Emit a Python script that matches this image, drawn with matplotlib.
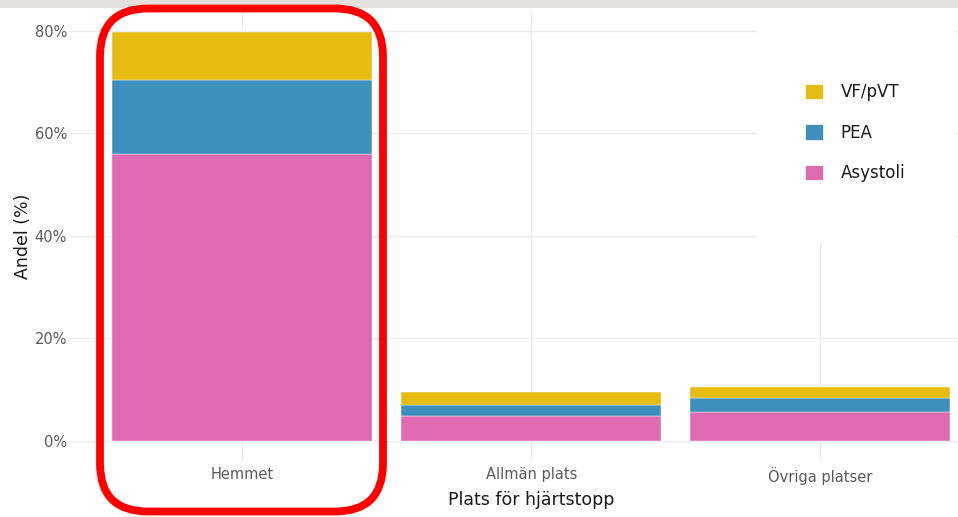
import matplotlib
matplotlib.use("Agg")
import matplotlib.pyplot as plt
from matplotlib.patches import Patch, Rectangle, FancyBboxPatch
from matplotlib.transforms import IdentityTransform
import numpy as np

# data (percent)
places = ["Hemmet", "Allmän plats", "Övriga platser"]
asystoli = [56.0, 4.9, 5.7]
pea = [14.4, 2.2, 2.7]
vf_pvt = [9.4, 2.4, 2.2]
yticks = [0, 20, 40, 60, 80]

col_asy = "#df6ab1"
col_pea = "#3f8fbc"
col_vf = "#e7bc12"

plt.rcParams['font.family'] = ['DejaVu Sans']

fig = plt.figure(figsize=(9.58, 5.17), dpi=100)
ax = fig.add_axes([69 / 958, 1 - 461.4 / 517, 1 - 69 / 958, 450 / 517])

x = np.arange(1, len(places) + 1)
asy = np.array(asystoli)
p = np.array(pea)
v = np.array(vf_pvt)
ax.bar(x, asy, width=0.9, color=col_asy, edgecolor="white", linewidth=0.3, zorder=2)
ax.bar(x, p, width=0.9, bottom=asy, color=col_pea, edgecolor="white", linewidth=0.3, zorder=2)
ax.bar(x, v, width=0.9, bottom=asy + p, color=col_vf, edgecolor="white", linewidth=0.3, zorder=2)

top = (asy + p + v).max()
ax.set_ylim(-0.05 * top, top * 1.05)
ax.set_xlim(0.4, 3.476)  # the original panel is cut off on the right
ax.set_yticks(yticks)
ax.set_yticklabels([f"{t}%" for t in yticks])
ax.set_xticks(x)
ax.set_xticklabels(places)
ax.tick_params(length=0, colors="#5a5a5a", labelsize=10.5)
ax.tick_params(axis="y", pad=1.5)
ax.tick_params(axis="x", pad=4)
ax.grid(True, color="#ebebeb", linewidth=1.0, zorder=0)
ax.set_axisbelow(True)
for s in ax.spines.values():
    s.set_visible(False)

ax.set_xlabel("Plats för hjärtstopp", fontsize=12.5, color="#1a1a1a", labelpad=4)
ax.xaxis.label.set_x((531 - 69) / (958 - 69))
ax.set_ylabel("Andel (%)", fontsize=12.5, color="#1a1a1a", labelpad=1.5)

# legend on a white box over the panel
fig.patches.append(Rectangle((757, 517 - 242), 198, 232, transform=IdentityTransform(),
                             facecolor="white", edgecolor="none", zorder=5))
handles = [Patch(facecolor=col_vf, edgecolor="white", linewidth=0.5, label="VF/pVT"),
           Patch(facecolor=col_pea, edgecolor="white", linewidth=0.5, label="PEA"),
           Patch(facecolor=col_asy, edgecolor="white", linewidth=0.5, label="Asystoli")]
leg = fig.legend(handles=handles, loc="upper left", bbox_to_anchor=(805 / 958, 1 - 83 / 517),
                 frameon=False, fontsize=12, handlelength=1.05, handleheight=1.05,
                 handletextpad=1.1, labelspacing=1.35, labelcolor="#1a1a1a",
                 borderpad=0, borderaxespad=0)
leg.set_zorder(6)

# gray strip on top
fig.patches.append(Rectangle((0, 1 - 8 / 517), 1, 8 / 517, transform=fig.transFigure,
                             facecolor="#e4e1da", edgecolor="none", zorder=7))

# red highlight around Hemmet
fig.patches.append(FancyBboxPatch((100, 5.5), 283, 503, transform=IdentityTransform(),
                                  boxstyle="round,pad=0,rounding_size=48",
                                  facecolor="none", edgecolor="#ff0000", linewidth=5.6, zorder=8))

fig.savefig("out.png", dpi=100)
